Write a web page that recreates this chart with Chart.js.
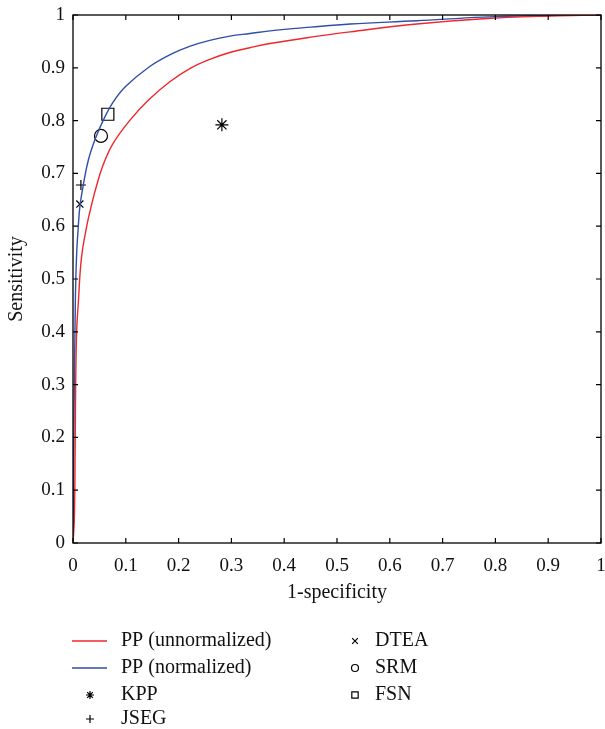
<!DOCTYPE html>
<html>
<head>
<meta charset="utf-8">
<script src="https://cdn.jsdelivr.net/npm/chart.js@4.4.1/dist/chart.umd.min.js"></script>
<style>
  html, body { margin: 0; padding: 0; background: #fff; }
  #wrap { width: 605px; height: 729px; }
</style>
</head>
<body>
<div id="wrap"><canvas id="rocChart" width="605" height="729"></canvas></div>
<script>
// ROC curves (1-specificity, sensitivity)
const unnormX = [0, 0.0025, 0.004, 0.005, 0.007, 0.010, 0.016, 0.026, 0.035, 0.045, 0.057, 0.076, 0.108, 0.143, 0.184, 0.222, 0.259, 0.297, 0.335, 0.373, 0.45, 0.525, 0.651, 0.777, 0.9, 1];
const unnormY = [0, 0.044, 0.17, 0.296, 0.403, 0.454, 0.540, 0.600, 0.640, 0.678, 0.716, 0.757, 0.801, 0.839, 0.874, 0.899, 0.916, 0.929, 0.938, 0.946, 0.958, 0.968, 0.983, 0.993, 0.998, 1];
const normX = [0, 0.002, 0.004, 0.005, 0.007, 0.010, 0.013, 0.020, 0.029, 0.042, 0.057, 0.076, 0.1, 0.146, 0.184, 0.222, 0.259, 0.297, 0.335, 0.373, 0.45, 0.525, 0.651, 0.777, 0.9, 1];
const normY = [0, 0.25, 0.423, 0.486, 0.549, 0.599, 0.637, 0.681, 0.725, 0.765, 0.800, 0.835, 0.865, 0.903, 0.925, 0.941, 0.952, 0.960, 0.965, 0.970, 0.977, 0.983, 0.989, 0.996, 0.999, 1];

// single operating points of the other methods
const methodNames = ['KPP', 'JSEG', 'DTEA', 'SRM', 'FSN'];
const methodX = [0.282, 0.015, 0.013, 0.053, 0.066];
const methodY = [0.792, 0.678, 0.642, 0.771, 0.812];

const tickValues = [0, 0.1, 0.2, 0.3, 0.4, 0.5, 0.6, 0.7, 0.8, 0.9, 1];
const tickLabels = ['0', '0.1', '0.2', '0.3', '0.4', '0.5', '0.6', '0.7', '0.8', '0.9', '1'];

const FONT = "'Liberation Serif', 'DejaVu Serif', serif";
const RED = '#f0262b';
const BLUE = '#2f4ea8';

function toPoints(xs, ys) {
    return xs.map((x, i) => ({x: x, y: ys[i]}));
}

const markerStyles = {
    KPP:  {pointStyle: 'star', radius: 6.5, legendRadius: 4},
    JSEG: {pointStyle: 'cross', radius: 5, legendRadius: 4},
    DTEA: {pointStyle: 'crossRot', radius: 5, legendRadius: 4},
    SRM:  {pointStyle: 'circle', radius: 6.5, legendRadius: 3.5},
    FSN:  {pointStyle: 'rect', radius: 8.5, legendRadius: 4.5}
};

const datasets = [{
    label: 'PP (unnormalized)',
    data: toPoints(unnormX, unnormY),
    showLine: true,
    borderColor: RED,
    borderWidth: 1.4,
    pointRadius: 0,
    tension: 0.4,
    fill: false
}, {
    label: 'PP (normalized)',
    data: toPoints(normX, normY),
    showLine: true,
    borderColor: BLUE,
    borderWidth: 1.4,
    pointRadius: 0,
    tension: 0.4,
    fill: false
}];

methodNames.forEach((name, i) => {
    const st = markerStyles[name];
    datasets.push({
        label: name,
        data: [{x: methodX[i], y: methodY[i]}],
        showLine: false,
        pointStyle: st.pointStyle,
        pointRadius: st.radius,
        pointBorderColor: '#000',
        pointBackgroundColor: 'rgba(0,0,0,0)',
        pointBorderWidth: 1.2
    });
});

function setTicks(scale) {
    scale.ticks = tickValues.map(v => ({value: v}));
}

// frame, inward ticks, axis titles and the legend below the plot
const decorations = {
    id: 'decorations',
    afterDraw(chart) {
        const ctx = chart.ctx;
        const a = chart.chartArea;
        const xs = chart.scales.x;
        const ys = chart.scales.y;
        ctx.save();
        ctx.strokeStyle = '#000';
        ctx.lineWidth = 1.3;
        ctx.strokeRect(a.left, a.top, a.right - a.left, a.bottom - a.top);
        ctx.lineWidth = 1.2;
        ctx.beginPath();
        tickValues.forEach(v => {
            const px = xs.getPixelForValue(v);
            ctx.moveTo(px, a.bottom); ctx.lineTo(px, a.bottom - 5);
            ctx.moveTo(px, a.top); ctx.lineTo(px, a.top + 5);
            const py = ys.getPixelForValue(v);
            ctx.moveTo(a.left, py); ctx.lineTo(a.left + 5, py);
            ctx.moveTo(a.right, py); ctx.lineTo(a.right - 5, py);
        });
        ctx.stroke();

        // axis titles
        ctx.fillStyle = '#111';
        ctx.font = '20px ' + FONT;
        ctx.textAlign = 'center';
        ctx.textBaseline = 'middle';
        ctx.fillText('1-specificity', (a.left + a.right) / 2, 593);
        ctx.save();
        ctx.translate(17, (a.top + a.bottom) / 2);
        ctx.rotate(-Math.PI / 2);
        ctx.fillText('Sensitivity', 0, 0);
        ctx.restore();

        // legend
        const items = [
            {ds: 0, x: 72, y: 641}, {ds: 1, x: 72, y: 668},
            {ds: 2, x: 72, y: 695}, {ds: 3, x: 72, y: 719},
            {ds: 4, x: 338, y: 641}, {ds: 5, x: 338, y: 668},
            {ds: 6, x: 338, y: 695}
        ];
        ctx.textAlign = 'left';
        items.forEach(it => {
            const d = chart.data.datasets[it.ds];
            if (d.showLine) {
                ctx.strokeStyle = d.borderColor;
                ctx.lineWidth = 1.4;
                ctx.beginPath();
                ctx.moveTo(it.x, it.y);
                ctx.lineTo(it.x + 35, it.y);
                ctx.stroke();
                ctx.fillStyle = '#111';
                ctx.fillText(d.label, it.x + 49, it.y);
            } else {
                const st = markerStyles[d.label];
                ctx.strokeStyle = '#000';
                ctx.fillStyle = 'rgba(0,0,0,0)';
                ctx.lineWidth = 1.2;
                const mx = it.ds <= 3 ? it.x + 18 : it.x + 17;
                if (Chart.helpers && Chart.helpers.drawPoint) {
                    Chart.helpers.drawPoint(ctx, {pointStyle: st.pointStyle, radius: st.legendRadius, rotation: 0, borderWidth: 1.2}, mx, it.y);
                }
                ctx.fillStyle = '#111';
                ctx.fillText(d.label, it.ds <= 3 ? it.x + 49 : it.x + 37, it.y);
            }
        });
        ctx.restore();
    }
};

const ctx = document.getElementById('rocChart').getContext('2d');
new Chart(ctx, {
    type: 'scatter',
    data: {datasets: datasets},
    options: {
        responsive: false,
        animation: false,
        devicePixelRatio: 1,
        layout: {
            autoPadding: false,
            padding: {top: 15, right: 4, bottom: 116, left: 0}
        },
        plugins: {
            legend: {display: false},
            tooltip: {enabled: false}
        },
        scales: {
            x: {
                type: 'linear',
                min: 0,
                max: 1,
                afterBuildTicks: setTicks,
                afterFit: s => { s.height = 70; s.paddingLeft = 0; s.paddingRight = 0; },
                grid: {display: false},
                border: {display: false},
                ticks: {
                    padding: 4,
                    maxRotation: 0,
                    color: '#111',
                    font: {family: FONT, size: 19},
                    callback: (v) => tickLabels[tickValues.indexOf(v)]
                }
            },
            y: {
                type: 'linear',
                min: 0,
                max: 1,
                afterBuildTicks: setTicks,
                afterFit: s => { s.width = 73; s.paddingTop = 0; s.paddingBottom = 0; },
                grid: {display: false},
                border: {display: false},
                ticks: {
                    padding: 0,
                    color: '#111',
                    font: {family: FONT, size: 19},
                    callback: (v) => tickLabels[tickValues.indexOf(v)]
                }
            }
        }
    },
    plugins: [decorations]
});
</script>
</body>
</html>
